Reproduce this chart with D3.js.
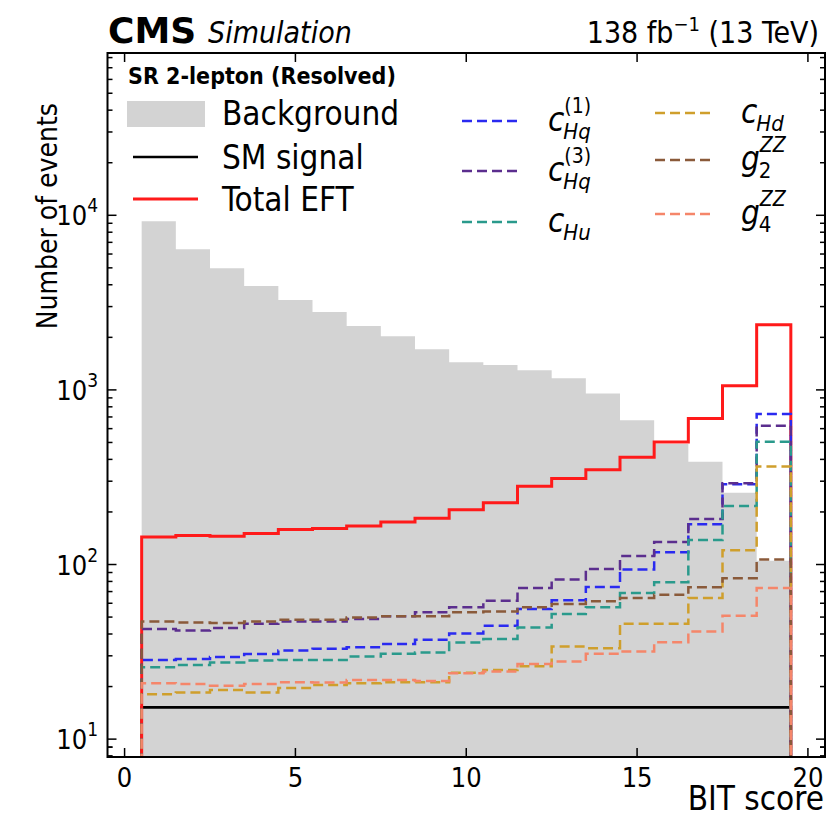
<!DOCTYPE html>
<html>
<head>
<meta charset="utf-8">
<script src="https://cdn.jsdelivr.net/npm/d3@7"></script>
<style>
  body { margin: 0; background: #fff; }
  text { font-family: "DejaVu Sans Condensed", "DejaVu Sans", sans-serif; font-stretch: condensed; }
  text.wide { font-family: "DejaVu Sans", sans-serif; font-stretch: normal; }
</style>
</head>
<body>
<div id="chart"></div>
<script>
// bin centres of the BIT score histogram (bins are 1 wide)
var binCenters = [1, 2, 3, 4, 5, 6, 7, 8, 9, 10, 11, 12, 13, 14, 15, 16, 17, 18, 19];

var background = [9250, 6400, 4980, 3930, 3270, 2790, 2320, 2030, 1710, 1440, 1387, 1294, 1165, 955, 670, 490, 388, 258, 105];
var smSignal = [15.2, 15.2, 15.2, 15.2, 15.2, 15.2, 15.2, 15.2, 15.2, 15.2, 15.2, 15.2, 15.2, 15.2, 15.2, 15.2, 15.2, 15.2, 15.2];
var totalEFT = [143.5, 146.8, 145, 150.7, 158.8, 161, 166, 175, 184, 206, 226, 281, 311, 349, 411, 503, 685, 1055, 2360];

var cHq1 = [28.4, 28.8, 29.5, 30.7, 32.2, 32.9, 33.6, 35.0, 37.1, 40.3, 44.6, 55.6, 62.4, 74.4, 93.6, 117.7, 170, 288, 728];
var cHq3 = [42.7, 41.9, 43.3, 45.8, 47.2, 47.2, 48.7, 50.5, 53.2, 56.9, 62.1, 73.4, 82.0, 94.4, 111.7, 134.4, 182, 292, 623];
var cHu = [25.8, 26.6, 27.5, 28.2, 28.4, 28.4, 29.7, 30.8, 31.3, 35.8, 37.4, 43.6, 52.1, 56.9, 68.7, 79.1, 138, 216, 504];
var cHd = [18.1, 18.5, 19.1, 18.5, 19.6, 20.4, 20.9, 21.2, 21.2, 24.0, 24.9, 26.1, 33.9, 33.2, 45.8, 45.8, 64.3, 120.8, 364];
var g2ZZ = [47.2, 46.6, 46.2, 47.2, 48.3, 48.3, 49.8, 50.5, 50.5, 53.2, 53.9, 56.9, 59.4, 61.6, 64.3, 67.2, 74.1, 83.5, 106.8];
var g4ZZ = [20.9, 20.7, 20.2, 20.7, 21.2, 21.1, 21.8, 21.8, 21.5, 23.8, 24.4, 26.9, 27.8, 30.8, 31.8, 35.9, 41.4, 50.9, 73.4];

var xTicks = [0, 5, 10, 15, 20];
var yTicks = [10, 100, 1000, 10000];

var svgWidth = 828;
var svgHeight = 818;

// plot frame in pixels
var frame = { left: 107.5, right: 825, top: 53, bottom: 757 };

var svg = d3.select("#chart")
    .append("svg")
    .attr("width", svgWidth)
    .attr("height", svgHeight);

svg.append("rect").attr("width", svgWidth).attr("height", svgHeight).attr("fill", "#fff");

var x = d3.scaleLinear()
    .domain([-0.5, 20.5])
    .range([frame.left, frame.right]);

var y = d3.scaleLog()
    .domain([7.9, 8.5e4])
    .range([frame.bottom, frame.top]);

svg.append("clipPath").attr("id", "plotclip")
    .append("rect")
    .attr("x", frame.left).attr("y", frame.top)
    .attr("width", frame.right - frame.left)
    .attr("height", frame.bottom - frame.top);

var plot = svg.append("g").attr("clip-path", "url(#plotclip)");

// step points for a histogram: drops to a floor below the axis on both ends
function stepPoints(values) {
  var floor = 1;
  var pts = [[binCenters[0] - 0.5, floor]];
  values.forEach(function(v, i) {
    pts.push([binCenters[i] - 0.5, v]);
    pts.push([binCenters[i] + 0.5, v]);
  });
  pts.push([binCenters[binCenters.length - 1] + 0.5, floor]);
  return pts;
}

var stepLine = d3.line()
    .x(function(d) { return x(d[0]); })
    .y(function(d) { return y(d[1]); });

// filled background
plot.append("path")
    .attr("d", stepLine(stepPoints(background)) + "Z")
    .attr("fill", "#d3d3d3")
    .attr("stroke", "none");

plot.append("path")
    .attr("d", stepLine(stepPoints(smSignal)))
    .attr("fill", "none")
    .attr("stroke", "#000")
    .attr("stroke-width", 2.6);

plot.append("path")
    .attr("d", stepLine(stepPoints(totalEFT)))
    .attr("fill", "none")
    .attr("stroke", "#ff1a1a")
    .attr("stroke-width", 3);

var dashed = [
  { values: cHq1, color: "#2a2af0" },
  { values: cHq3, color: "#5b2e8e" },
  { values: cHu, color: "#2a9a8c" },
  { values: cHd, color: "#cf9f2c" },
  { values: g2ZZ, color: "#8a5a3a" },
  { values: g4ZZ, color: "#f5866a" }
];

dashed.forEach(function(s) {
  plot.append("path")
      .attr("d", stepLine(stepPoints(s.values)))
      .attr("fill", "none")
      .attr("stroke", s.color)
      .attr("stroke-width", 2.5)
      .attr("stroke-dasharray", "10,5");
});

// frame
svg.append("rect")
    .attr("x", frame.left).attr("y", frame.top)
    .attr("width", frame.right - frame.left)
    .attr("height", frame.bottom - frame.top)
    .attr("fill", "none")
    .attr("stroke", "#000")
    .attr("stroke-width", 2);

// ticks, inward on all four sides
var ticks = svg.append("g").attr("stroke", "#000").attr("stroke-width", 1.5);
xTicks.forEach(function(t) {
  ticks.append("line").attr("x1", x(t)).attr("x2", x(t)).attr("y1", frame.bottom).attr("y2", frame.bottom - 9);
  ticks.append("line").attr("x1", x(t)).attr("x2", x(t)).attr("y1", frame.top).attr("y2", frame.top + 9);
});

var minorY = [];
[1, 10, 100, 1000, 10000].forEach(function(dec) {
  for (var k = 2; k <= 9; k++) minorY.push(dec * k);
});
minorY.push(8, 9);
minorY = minorY.filter(function(v) { return v > y.domain()[0] && v < y.domain()[1]; });

yTicks.forEach(function(t) {
  ticks.append("line").attr("x1", frame.left).attr("x2", frame.left + 9).attr("y1", y(t)).attr("y2", y(t));
  ticks.append("line").attr("x1", frame.right).attr("x2", frame.right - 9).attr("y1", y(t)).attr("y2", y(t));
});
minorY.forEach(function(t) {
  ticks.append("line").attr("x1", frame.left).attr("x2", frame.left + 5).attr("y1", y(t)).attr("y2", y(t));
  ticks.append("line").attr("x1", frame.right).attr("x2", frame.right - 5).attr("y1", y(t)).attr("y2", y(t));
});

// tick labels
xTicks.forEach(function(t) {
  svg.append("text")
      .attr("x", x(t)).attr("y", 787)
      .attr("text-anchor", "middle")
      .attr("font-size", 27)
      .text(t);
});

yTicks.forEach(function(t) {
  var ex = Math.round(Math.log10(t));
  var sup = svg.append("text")
      .attr("x", 98).attr("y", y(t) - 3)
      .attr("text-anchor", "end")
      .attr("font-size", 19)
      .text(ex);
  var w = sup.node().getComputedTextLength();
  svg.append("text")
      .attr("x", 98 - w).attr("y", y(t) + 10)
      .attr("text-anchor", "end")
      .attr("font-size", 27)
      .text("10");
});

// axis titles
svg.append("text")
    .attr("x", 824).attr("y", 810)
    .attr("text-anchor", "end")
    .attr("font-size", 33)
    .text("BIT score");

svg.append("text")
    .attr("transform", "translate(57,103) rotate(-90)")
    .attr("text-anchor", "end")
    .attr("font-size", 28)
    .text("Number of events");

// CMS header
svg.append("text")
    .attr("class", "wide")
    .attr("x", 108).attr("y", 43)
    .attr("font-size", 36)
    .attr("font-weight", "bold")
    .text("CMS");
svg.append("text")
    .attr("x", 208).attr("y", 43)
    .attr("font-size", 30)
    .attr("font-style", "italic")
    .text("Simulation");

var lumi = svg.append("text")
    .attr("x", 819).attr("y", 43)
    .attr("text-anchor", "end")
    .attr("font-size", 30);
lumi.append("tspan").text("138 fb");
lumi.append("tspan").attr("dy", -12).attr("font-size", 20).text("\u22121");
lumi.append("tspan").attr("dy", 12).text(" (13 TeV)");

// legend
svg.append("text")
    .attr("x", 128).attr("y", 84)
    .attr("font-size", 23)
    .attr("font-weight", "bold")
    .text("SR 2-lepton (Resolved)");

svg.append("rect")
    .attr("x", 127).attr("y", 101).attr("width", 78).attr("height", 26)
    .attr("fill", "#d3d3d3");
svg.append("text").attr("x", 222).attr("y", 125).attr("font-size", 33).text("Background");

svg.append("line").attr("x1", 133).attr("x2", 198).attr("y1", 157).attr("y2", 157)
    .attr("stroke", "#000").attr("stroke-width", 2.6);
svg.append("text").attr("x", 222).attr("y", 169).attr("font-size", 33).text("SM signal");

svg.append("line").attr("x1", 133).attr("x2", 198).attr("y1", 199).attr("y2", 199)
    .attr("stroke", "#ff1a1a").attr("stroke-width", 3);
svg.append("text").attr("x", 222).attr("y", 211).attr("font-size", 33).text("Total EFT");

var legendItems = [
  { color: "#2a2af0", lx: 462, ly: 121, base: "c", sub: "Hq", sup: "(1)", subItalic: true, supItalic: false },
  { color: "#5b2e8e", lx: 462, ly: 171, base: "c", sub: "Hq", sup: "(3)", subItalic: true, supItalic: false },
  { color: "#2a9a8c", lx: 462, ly: 222, base: "c", sub: "Hu", sup: "", subItalic: true, supItalic: false },
  { color: "#cf9f2c", lx: 655, ly: 113, base: "c", sub: "Hd", sup: "", subItalic: true, supItalic: false },
  { color: "#8a5a3a", lx: 655, ly: 160, base: "g", sub: "2", sup: "ZZ", subItalic: false, supItalic: true },
  { color: "#f5866a", lx: 655, ly: 214, base: "g", sub: "4", sup: "ZZ", subItalic: false, supItalic: true }
];

legendItems.forEach(function(d) {
  svg.append("line")
      .attr("x1", d.lx).attr("x2", d.lx + 60)
      .attr("y1", d.ly).attr("y2", d.ly)
      .attr("stroke", d.color).attr("stroke-width", 2.5)
      .attr("stroke-dasharray", "10,5");
  var tx = d.lx + 86;
  var b = svg.append("text")
      .attr("x", tx).attr("y", d.ly + 10)
      .attr("font-size", 33).attr("font-style", "italic")
      .text(d.base);
  var bw = b.node().getComputedTextLength();
  svg.append("text")
      .attr("x", tx + bw - 1).attr("y", d.ly + 18)
      .attr("font-size", 22).attr("font-style", d.subItalic ? "italic" : "normal")
      .text(d.sub);
  if (d.sup) {
    svg.append("text")
        .attr("x", tx + bw).attr("y", d.ly - 8)
        .attr("font-size", 21).attr("font-style", d.supItalic ? "italic" : "normal")
        .text(d.sup);
  }
});
</script>
</body>
</html>
